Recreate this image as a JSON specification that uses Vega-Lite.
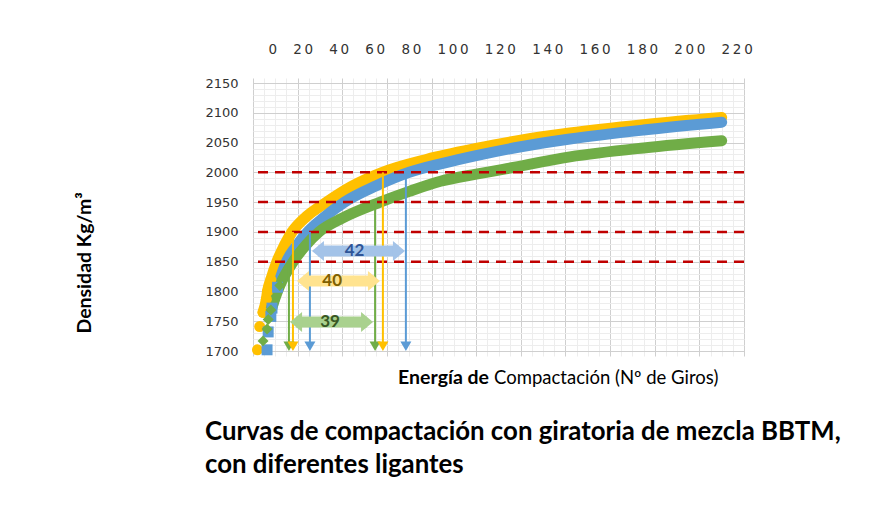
{
  "$schema": "https://vega.github.io/schema/vega-lite/v6.json",
  "width": 491,
  "height": 278,
  "autosize": {"type": "none"},
  "padding": {"left": 253, "top": 78, "right": 152, "bottom": 161},
  "background": "white",
  "config": {"view": {"stroke": null}, "font": "Lato"},
  "datasets": {
    "curvas": [
      {"s": "A", "n": 2, "d": 1702}, {"s": "A", "n": 3, "d": 1741}, {"s": "A", "n": 4.5, "d": 1765},
      {"s": "A", "n": 6, "d": 1787}, {"s": "A", "n": 6.5, "d": 1800}, {"s": "A", "n": 8, "d": 1820},
      {"s": "A", "n": 10.7, "d": 1850}, {"s": "A", "n": 14, "d": 1877}, {"s": "A", "n": 17.5, "d": 1900},
      {"s": "A", "n": 24, "d": 1926}, {"s": "A", "n": 33, "d": 1950}, {"s": "A", "n": 44, "d": 1976},
      {"s": "A", "n": 58, "d": 2000}, {"s": "A", "n": 78, "d": 2022}, {"s": "A", "n": 100, "d": 2040},
      {"s": "A", "n": 120, "d": 2054}, {"s": "A", "n": 142, "d": 2066}, {"s": "A", "n": 175, "d": 2080},
      {"s": "A", "n": 210, "d": 2092},
      {"s": "B", "n": 6.3, "d": 1702}, {"s": "B", "n": 6.8, "d": 1732}, {"s": "B", "n": 8, "d": 1758},
      {"s": "B", "n": 8.5, "d": 1772}, {"s": "B", "n": 11, "d": 1807}, {"s": "B", "n": 15, "d": 1850},
      {"s": "B", "n": 19, "d": 1874}, {"s": "B", "n": 24.5, "d": 1900}, {"s": "B", "n": 32, "d": 1925},
      {"s": "B", "n": 41, "d": 1950}, {"s": "B", "n": 55, "d": 1977}, {"s": "B", "n": 70, "d": 2000},
      {"s": "B", "n": 85, "d": 2015}, {"s": "B", "n": 100, "d": 2028}, {"s": "B", "n": 120, "d": 2043},
      {"s": "B", "n": 142, "d": 2056}, {"s": "B", "n": 175, "d": 2071}, {"s": "B", "n": 210, "d": 2084},
      {"s": "C", "n": 4.5, "d": 1717}, {"s": "C", "n": 6.3, "d": 1737}, {"s": "C", "n": 6.8, "d": 1753},
      {"s": "C", "n": 8, "d": 1769}, {"s": "C", "n": 12, "d": 1810}, {"s": "C", "n": 18, "d": 1850},
      {"s": "C", "n": 24, "d": 1879}, {"s": "C", "n": 29.6, "d": 1900}, {"s": "C", "n": 40, "d": 1923},
      {"s": "C", "n": 57, "d": 1950}, {"s": "C", "n": 70, "d": 1968}, {"s": "C", "n": 84, "d": 1985},
      {"s": "C", "n": 100, "d": 1997}, {"s": "C", "n": 112, "d": 2005}, {"s": "C", "n": 142, "d": 2026},
      {"s": "C", "n": 175, "d": 2041}, {"s": "C", "n": 210, "d": 2053}
    ],
    "limites": [{"d": 1850}, {"d": 1900}, {"d": 1950}, {"d": 2000}],
    "verticales": [
      {"s": "C", "n": 16.1, "top": 1850}, {"s": "C", "n": 54.7, "top": 1950},
      {"s": "A", "n": 17.9, "top": 1900}, {"s": "A", "n": 58.2, "top": 2000},
      {"s": "B", "n": 25.5, "top": 1900}, {"s": "B", "n": 68.5, "top": 2000}
    ],
    "flechas": [
      {"s": "B", "n1": 29.1, "n2": 65.4, "d": 1868, "nt": 45.5, "giros": "42"},
      {"s": "A", "n1": 22.4, "n2": 54.2, "d": 1817.7, "nt": 35.5, "giros": "40"},
      {"s": "C", "n1": 19.3, "n2": 51.1, "d": 1748.6, "nt": 34.5, "giros": "39"}
    ],
    "uno": [{}]
  },
  "layer": [
    {
      "data": {"name": "curvas"},
      "transform": [{"filter": "datum.d >= 1760"}],
      "mark": {"type": "line", "strokeWidth": 11, "strokeCap": "round", "strokeJoin": "round", "interpolate": "monotone"},
      "encoding": {
        "x": {"field": "n", "type": "quantitative", "scale": {"domain": [0, 220], "nice": false, "zero": false},
          "axis": {"orient": "bottom", "values": [0, 20, 40, 60, 80, 100, 120, 140, 160, 180, 200, 220], "grid": true, "gridColor": "#cfcfcf", "gridWidth": 1, "labels": false, "ticks": false, "domain": false, "title": null}},
        "y": {"field": "d", "type": "quantitative", "scale": {"domain": [1700, 2150], "nice": false, "zero": false},
          "axis": {"orient": "left", "values": [1700, 1750, 1800, 1850, 1900, 1950, 2000, 2050, 2100, 2150], "format": "d", "grid": true, "gridColor": "#cfcfcf", "gridWidth": 1, "ticks": false, "domain": false, "labelFont": "DejaVu Sans", "labelFontSize": 13, "labelColor": "#333333", "labelPadding": 15, "title": null}},
        "color": {"field": "s", "type": "nominal", "scale": {"domain": ["A", "B", "C"], "range": ["#FFC000", "#5B9BD5", "#70AD47"]}, "legend": null}
      }
    },
    {
      "data": {"name": "curvas"},
      "transform": [{"filter": "datum.d < 1830"}],
      "mark": {"type": "point", "filled": true, "size": 120, "opacity": 1},
      "encoding": {
        "x": {"field": "n", "type": "quantitative",
          "axis": {"orient": "bottom", "values": [5, 10, 15, 25, 30, 35, 45, 50, 55, 65, 70, 75, 85, 90, 95, 105, 110, 115, 125, 130, 135, 145, 150, 155, 165, 170, 175, 185, 190, 195, 205, 210, 215], "grid": true, "gridColor": "#ededed", "gridWidth": 1, "labels": false, "ticks": false, "domain": false, "title": null}},
        "y": {"field": "d", "type": "quantitative",
          "axis": {"orient": "left", "values": [1710, 1720, 1730, 1740, 1760, 1770, 1780, 1790, 1810, 1820, 1830, 1840, 1860, 1870, 1880, 1890, 1910, 1920, 1930, 1940, 1960, 1970, 1980, 1990, 2010, 2020, 2030, 2040, 2060, 2070, 2080, 2090, 2110, 2120, 2130, 2140], "grid": true, "gridColor": "#ededed", "gridWidth": 1, "labels": false, "ticks": false, "domain": false, "title": null}},
        "color": {"field": "s", "type": "nominal", "scale": {"domain": ["A", "B", "C"], "range": ["#FFC000", "#5B9BD5", "#70AD47"]}, "legend": null},
        "shape": {"field": "s", "type": "nominal", "scale": {"domain": ["A", "B", "C"], "range": ["circle", "square", "diamond"]}, "legend": null}
      }
    },
    {
      "data": {"name": "limites"},
      "mark": {"type": "rule", "color": "#C00000", "strokeWidth": 2.5, "strokeDash": [10, 7]},
      "encoding": {"y": {"field": "d", "type": "quantitative", "axis": null}}
    },
    {
      "data": {"name": "verticales"},
      "mark": {"type": "rule", "strokeWidth": 2},
      "encoding": {
        "x": {"field": "n", "type": "quantitative", "axis": null},
        "y": {"field": "top", "type": "quantitative", "axis": null},
        "y2": {"datum": 1713},
        "color": {"field": "s", "type": "nominal", "scale": {"domain": ["A", "B", "C"], "range": ["#FFC000", "#5B9BD5", "#70AD47"]}, "legend": null}
      }
    },
    {
      "data": {"name": "verticales"},
      "mark": {"type": "point", "shape": "triangle-down", "filled": true, "size": 121, "opacity": 1},
      "encoding": {
        "x": {"field": "n", "type": "quantitative", "axis": null},
        "y": {"datum": 1708, "type": "quantitative", "axis": null},
        "color": {"field": "s", "type": "nominal", "scale": {"domain": ["A", "B", "C"], "range": ["#FFC000", "#5B9BD5", "#70AD47"]}, "legend": null}
      }
    },
    {
      "data": {"name": "flechas"},
      "mark": {"type": "bar", "height": 11},
      "encoding": {
        "x": {"field": "n1", "type": "quantitative", "axis": null},
        "x2": {"field": "n2"},
        "y": {"field": "d", "type": "quantitative", "axis": null},
        "color": {"field": "s", "type": "nominal", "scale": {"domain": ["A", "B", "C"], "range": ["#FFE38F", "#A3C3E8", "#A9D18E"]}, "legend": null}
      }
    },
    {
      "data": {"name": "flechas"},
      "mark": {"type": "point", "shape": "M0.6,-1L-0.6,0L0.6,1Z", "filled": true, "size": 400, "opacity": 1},
      "encoding": {
        "x": {"field": "n1", "type": "quantitative", "axis": null},
        "y": {"field": "d", "type": "quantitative", "axis": null},
        "color": {"field": "s", "type": "nominal", "scale": {"domain": ["A", "B", "C"], "range": ["#FFE38F", "#A3C3E8", "#A9D18E"]}, "legend": null}
      }
    },
    {
      "data": {"name": "flechas"},
      "mark": {"type": "point", "shape": "M-0.6,-1L0.6,0L-0.6,1Z", "filled": true, "size": 400, "opacity": 1},
      "encoding": {
        "x": {"field": "n2", "type": "quantitative", "axis": null},
        "y": {"field": "d", "type": "quantitative", "axis": null},
        "color": {"field": "s", "type": "nominal", "scale": {"domain": ["A", "B", "C"], "range": ["#FFE38F", "#A3C3E8", "#A9D18E"]}, "legend": null}
      }
    },
    {
      "data": {"name": "flechas"},
      "mark": {"type": "text", "font": "Lato", "fontWeight": "bold", "fontSize": 17, "align": "center", "baseline": "middle"},
      "encoding": {
        "x": {"field": "nt", "type": "quantitative", "axis": null},
        "y": {"field": "d", "type": "quantitative", "axis": null},
        "text": {"field": "giros"},
        "color": {"field": "s", "type": "nominal", "scale": {"domain": ["A", "B", "C"], "range": ["#7F6000", "#2F5597", "#385723"]}, "legend": null}
      }
    },
    {
      "data": {"name": "uno"},
      "mark": {"type": "text", "font": "DejaVu Sans", "fontSize": 13.5, "color": "#333333", "align": "center", "baseline": "alphabetic"},
      "encoding": {
        "x": {"datum": 115.4, "type": "quantitative", "axis": null},
        "y": {"datum": 2198, "type": "quantitative", "axis": null},
        "text": {"value": "0\u2003\u20092\u20090\u2003\u20094\u20090\u2003\u20096\u20090\u2003\u20098\u20090\u2003\u20091\u20090\u20090\u2003\u20091\u20092\u20090\u2003\u20091\u20094\u20090\u2003\u20091\u20096\u20090\u2003\u20091\u20098\u20090\u2003\u20092\u20090\u20090\u2003\u20092\u20092\u20090"}
      }
    },
    {
      "data": {"name": "uno"},
      "mark": {"type": "text", "font": "Lato", "fontWeight": "bold", "fontSize": 19.5, "angle": 270, "align": "center", "baseline": "middle", "color": "#000000"},
      "encoding": {
        "x": {"datum": -75.3, "type": "quantitative", "axis": null},
        "y": {"datum": 1848, "type": "quantitative", "axis": null},
        "text": {"value": "Densidad Kg/m³"}
      }
    },
    {
      "data": {"name": "uno"},
      "mark": {"type": "text", "font": "Lato", "fontWeight": "bold", "fontSize": 19.5, "align": "left", "baseline": "alphabetic", "color": "#000000"},
      "encoding": {
        "x": {"datum": 65, "type": "quantitative", "axis": null},
        "y": {"datum": 1644, "type": "quantitative", "axis": null},
        "text": {"value": "Energía de"}
      }
    },
    {
      "data": {"name": "uno"},
      "mark": {"type": "text", "font": "Lato", "fontSize": 18.5, "align": "left", "baseline": "alphabetic", "color": "#000000"},
      "encoding": {
        "x": {"datum": 108, "type": "quantitative", "axis": null},
        "y": {"datum": 1644, "type": "quantitative", "axis": null},
        "text": {"value": "Compactación (Nº de Giros)"}
      }
    },
    {
      "data": {"name": "uno"},
      "mark": {"type": "text", "font": "Lato", "fontWeight": "bold", "fontSize": 25.8, "align": "left", "baseline": "alphabetic", "color": "#000000", "lineBreak": "\n", "lineHeight": 33},
      "encoding": {
        "x": {"datum": -21.5, "type": "quantitative", "axis": null},
        "y": {"datum": 1551, "type": "quantitative", "axis": null},
        "text": {"value": "Curvas de compactación con giratoria de mezcla BBTM,\ncon diferentes ligantes"}
      }
    }
  ],
  "resolve": {"scale": {"color": "independent"}, "axis": {"x": "independent", "y": "independent"}}
}
